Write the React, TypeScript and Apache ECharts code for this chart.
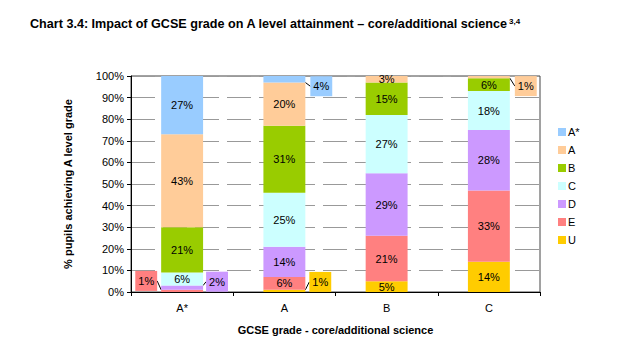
import React, { useEffect, useRef } from "react";
import * as echarts from "echarts";

const categories = ["A*", "A", "B", "C"];
const seriesNames = ["U", "E", "D", "C", "B", "A", "A*"];
const legendOrder = ["A*", "A", "B", "C", "D", "E", "U"];
const gradeU = [0, 1, 5, 14];
const gradeE = [1, 6, 21, 33];
const gradeD = [2, 14, 29, 28];
const gradeC = [6, 25, 27, 18];
const gradeB = [21, 31, 15, 6];
const gradeA = [43, 20, 3, 1];
const gradeAStar = [27, 4, 0, 0];
const yTicks = [0, 10, 20, 30, 40, 50, 60, 70, 80, 90, 100];

const seriesValues: Record<string, number[]> = {
  U: gradeU,
  E: gradeE,
  D: gradeD,
  C: gradeC,
  B: gradeB,
  A: gradeA,
  "A*": gradeAStar,
};

const colors: Record<string, string> = {
  "A*": "#99CCFF",
  A: "#FFCC99",
  B: "#99CC00",
  C: "#CCFFFF",
  D: "#CC99FF",
  E: "#FF8080",
  U: "#FFCC00",
};

// labels moved outside of the bar (series name, category index, side, vertical shift)
const outside: { s: string; c: number; side: string; dy: number; dist: number }[] = [
  { s: "E", c: 0, side: "left", dy: -10, dist: 4 },
  { s: "D", c: 0, side: "right", dy: -6, dist: 3 },
  { s: "A*", c: 1, side: "right", dy: 7, dist: 5 },
  { s: "U", c: 1, side: "right", dy: -9, dist: 4 },
  { s: "A", c: 3, side: "right", dy: 9, dist: 5 },
];

const FONT = "Liberation Sans, Arial, sans-serif";

export default function App() {
  const ref = useRef<HTMLDivElement>(null);
  useEffect(() => {
    if (!ref.current) return;
    const chart = echarts.init(ref.current, undefined, { renderer: "svg" });
    const series = seriesNames.map((name) => ({
      name,
      type: "bar",
      stack: "total",
      barWidth: "41%",
      itemStyle: { color: colors[name] },
      label: {
        show: true,
        position: "inside",
        color: "#000",
        fontSize: 11,
        fontFamily: FONT,
        formatter: (p: any) => (p.value ? p.value + "%" : ""),
      },
      labelLayout: (params: any) => {
        const o = outside.find(
          (x) => x.s === name && x.c === params.dataIndex
        );
        return o ? { dy: o.dy } : {};
      },
      data: seriesValues[name].map((v, ci) => {
        const o = outside.find((x) => x.s === name && x.c === ci);
        if (!o) return v;
        return {
          value: v,
          label: {
            position: o.side,
            distance: o.dist,
            backgroundColor: colors[name],
            padding: [5, 3, 4, 3],
          },
          labelLine: {
            show: true,
            length2: 0,
            lineStyle: { color: "#000", width: 1 },
          },
        };
      }),
    }));
    chart.setOption({
      animation: false,
      backgroundColor: "#fff",
      title: {
        text: "Chart 3.4: Impact of GCSE grade on A level attainment – core/additional science{sup|3,4}",
        left: 17,
        top: 4,
        textStyle: {
          fontFamily: FONT,
          fontSize: 12.6,
          fontWeight: "bold",
          color: "#000",
          rich: {
            sup: {
              fontFamily: FONT,
              fontSize: 8,
              fontWeight: "bold",
              verticalAlign: "top",
              lineHeight: 8,
              padding: [0, 0, 10, 1],
            },
          },
        },
      },
      legend: {
        orient: "vertical",
        left: 545,
        top: 113,
        data: legendOrder,
        itemWidth: 8,
        itemHeight: 8,
        itemGap: 6,
        icon: "rect",
        textStyle: { fontFamily: FONT, fontSize: 11, color: "#000", lineHeight: 12, padding: [0, 0, 0, -3] },
      },
      grid: {
        left: 123,
        right: 83,
        top: 68,
        bottom: 57,
        show: true,
        borderColor: "#444",
        borderWidth: 1,
      },
      xAxis: {
        type: "category",
        data: categories,
        name: "GCSE grade - core/additional science",
        nameLocation: "middle",
        nameGap: 32,
        nameTextStyle: { fontFamily: FONT, fontSize: 11, fontWeight: "bold", color: "#000" },
        axisLine: { lineStyle: { color: "#000" } },
        axisTick: { show: true, length: 4, lineStyle: { color: "#000" } },
        axisLabel: { fontFamily: FONT, fontSize: 11, color: "#000", margin: 10 },
      },
      yAxis: {
        type: "value",
        min: 0,
        max: 100,
        interval: 10,
        name: "% pupils achieving A level grade",
        nameLocation: "middle",
        nameGap: 58,
        nameTextStyle: { fontFamily: FONT, fontSize: 11, fontWeight: "bold", color: "#000" },
        axisLine: { show: true, lineStyle: { color: "#000" } },
        axisTick: { show: true, length: 4, lineStyle: { color: "#000" } },
        axisLabel: {
          fontFamily: FONT,
          fontSize: 11,
          color: "#000",
          margin: 7,
          formatter: (v: number) => (yTicks.includes(v) ? v + "%" : ""),
        },
        splitLine: {
          show: true,
          lineStyle: { color: "#999", type: [24, 8], width: 1 },
        },
      },
      series,
    });
    return () => chart.dispose();
  }, []);
  return <div ref={ref} style={{ width: 615, height: 341 }} />;
}
